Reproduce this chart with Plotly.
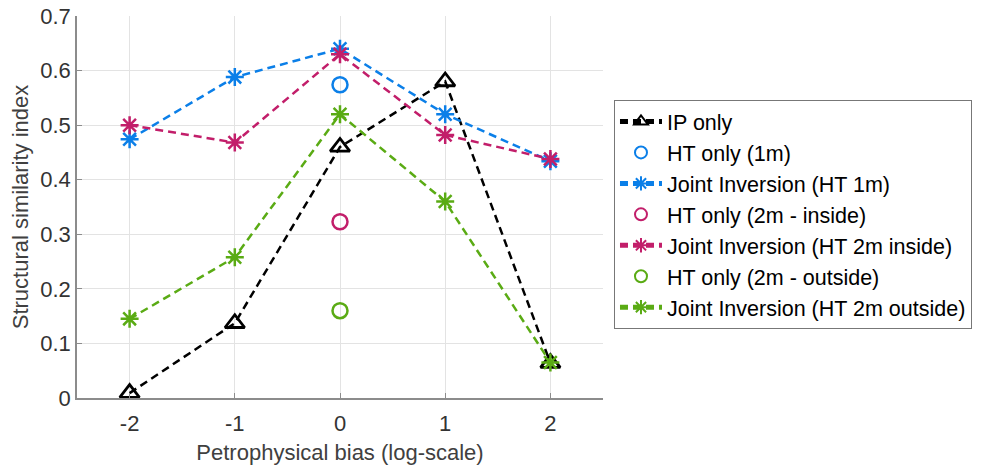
import plotly.graph_objects as go

x_bias = [-2, -1, 0, 1, 2]
ip_only = [0.009, 0.137, 0.460, 0.580, 0.064]
ht_1m_x = [0]
ht_1m = [0.574]
joint_1m = [0.474, 0.588, 0.640, 0.520, 0.434]
ht_2m_in_x = [0]
ht_2m_in = [0.323]
joint_2m_in = [0.500, 0.468, 0.630, 0.482, 0.438]
ht_2m_out_x = [0]
ht_2m_out = [0.160]
joint_2m_out = [0.145, 0.258, 0.520, 0.360, 0.065]

BLUE = "#0b7fe8"
MAG = "#c21e6a"
GREEN = "#5aab14"
DASH = "8px,5px"

fig = go.Figure()
fig.add_trace(go.Scatter(x=x_bias, y=ip_only, name="IP only", mode="lines+markers",
                         line=dict(color="black", width=2.5, dash=DASH),
                         marker=dict(symbol="triangle-up-open", size=17, color="black", line=dict(width=2.8))))
fig.add_trace(go.Scatter(x=ht_1m_x, y=ht_1m, name="HT only (1m)", mode="markers",
                         marker=dict(symbol="circle-open", size=15, color=BLUE, line=dict(width=2.5))))
fig.add_trace(go.Scatter(x=x_bias, y=joint_1m, name="Joint Inversion (HT 1m)", mode="lines+markers",
                         line=dict(color=BLUE, width=2.5, dash=DASH),
                         marker=dict(symbol="asterisk-open", size=15, color=BLUE, line=dict(width=2.5, color=BLUE))))
fig.add_trace(go.Scatter(x=ht_2m_in_x, y=ht_2m_in, name="HT only (2m - inside)", mode="markers",
                         marker=dict(symbol="circle-open", size=15, color=MAG, line=dict(width=2.5))))
fig.add_trace(go.Scatter(x=x_bias, y=joint_2m_in, name="Joint Inversion (HT 2m inside)", mode="lines+markers",
                         line=dict(color=MAG, width=2.5, dash=DASH),
                         marker=dict(symbol="asterisk-open", size=15, color=MAG, line=dict(width=2.5, color=MAG))))
fig.add_trace(go.Scatter(x=ht_2m_out_x, y=ht_2m_out, name="HT only (2m - outside)", mode="markers",
                         marker=dict(symbol="circle-open", size=15, color=GREEN, line=dict(width=2.5))))
fig.add_trace(go.Scatter(x=x_bias, y=joint_2m_out, name="Joint Inversion (HT 2m outside)", mode="lines+markers",
                         line=dict(color=GREEN, width=2.5, dash=DASH),
                         marker=dict(symbol="asterisk-open", size=15, color=GREEN, line=dict(width=2.5, color=GREEN))))

L, R, T, B = 76.5, 603, 16, 398
W, H = 982, 468
pw, ph = R - L, B - T

fig.update_layout(
    width=W, height=H,
    margin=dict(l=L, r=W - R, t=T, b=H - B, pad=0, autoexpand=False),
    paper_bgcolor="white", plot_bgcolor="white",
    font=dict(family="Liberation Sans, Arial, sans-serif", size=22, color="#333333"),
    showlegend=True,
    legend=dict(x=(614 - L) / pw, y=(B - 100) / ph, xanchor="left", yanchor="top",
                bordercolor="#777777", borderwidth=1, bgcolor="white",
                font=dict(size=21.5, color="black"), tracegroupgap=0,
                itemsizing="constant", itemwidth=42),
)
fig.update_xaxes(range=[-2.5, 2.5], tickvals=x_bias, ticktext=["-2", "-1", "0", "1", "2"],
                 showgrid=True, gridcolor="#e3e3e3", gridwidth=1,
                 showline=True, linecolor="#8c8c8c", linewidth=1.5,
                 ticks="inside", ticklen=5, tickcolor="#8c8c8c", zeroline=False,
                 ticklabelstandoff=5, automargin=False,
                 title=dict(text="Petrophysical bias (log-scale)", font=dict(size=22, color="#404040"), standoff=9),
                 tickfont=dict(size=22, color="#333333"))
fig.update_yaxes(range=[0, 0.7], dtick=0.1, tickformat=".1~f",
                 showgrid=True, gridcolor="#e3e3e3", gridwidth=1,
                 showline=True, linecolor="#8c8c8c", linewidth=1.5,
                 ticks="inside", ticklen=5, tickcolor="#8c8c8c", zeroline=False,
                 automargin=False,
                 title=dict(text="Structural similarity index", font=dict(size=22, color="#404040"), standoff=6),
                 tickfont=dict(size=22, color="#333333"))

fig.write_html("out.html")
